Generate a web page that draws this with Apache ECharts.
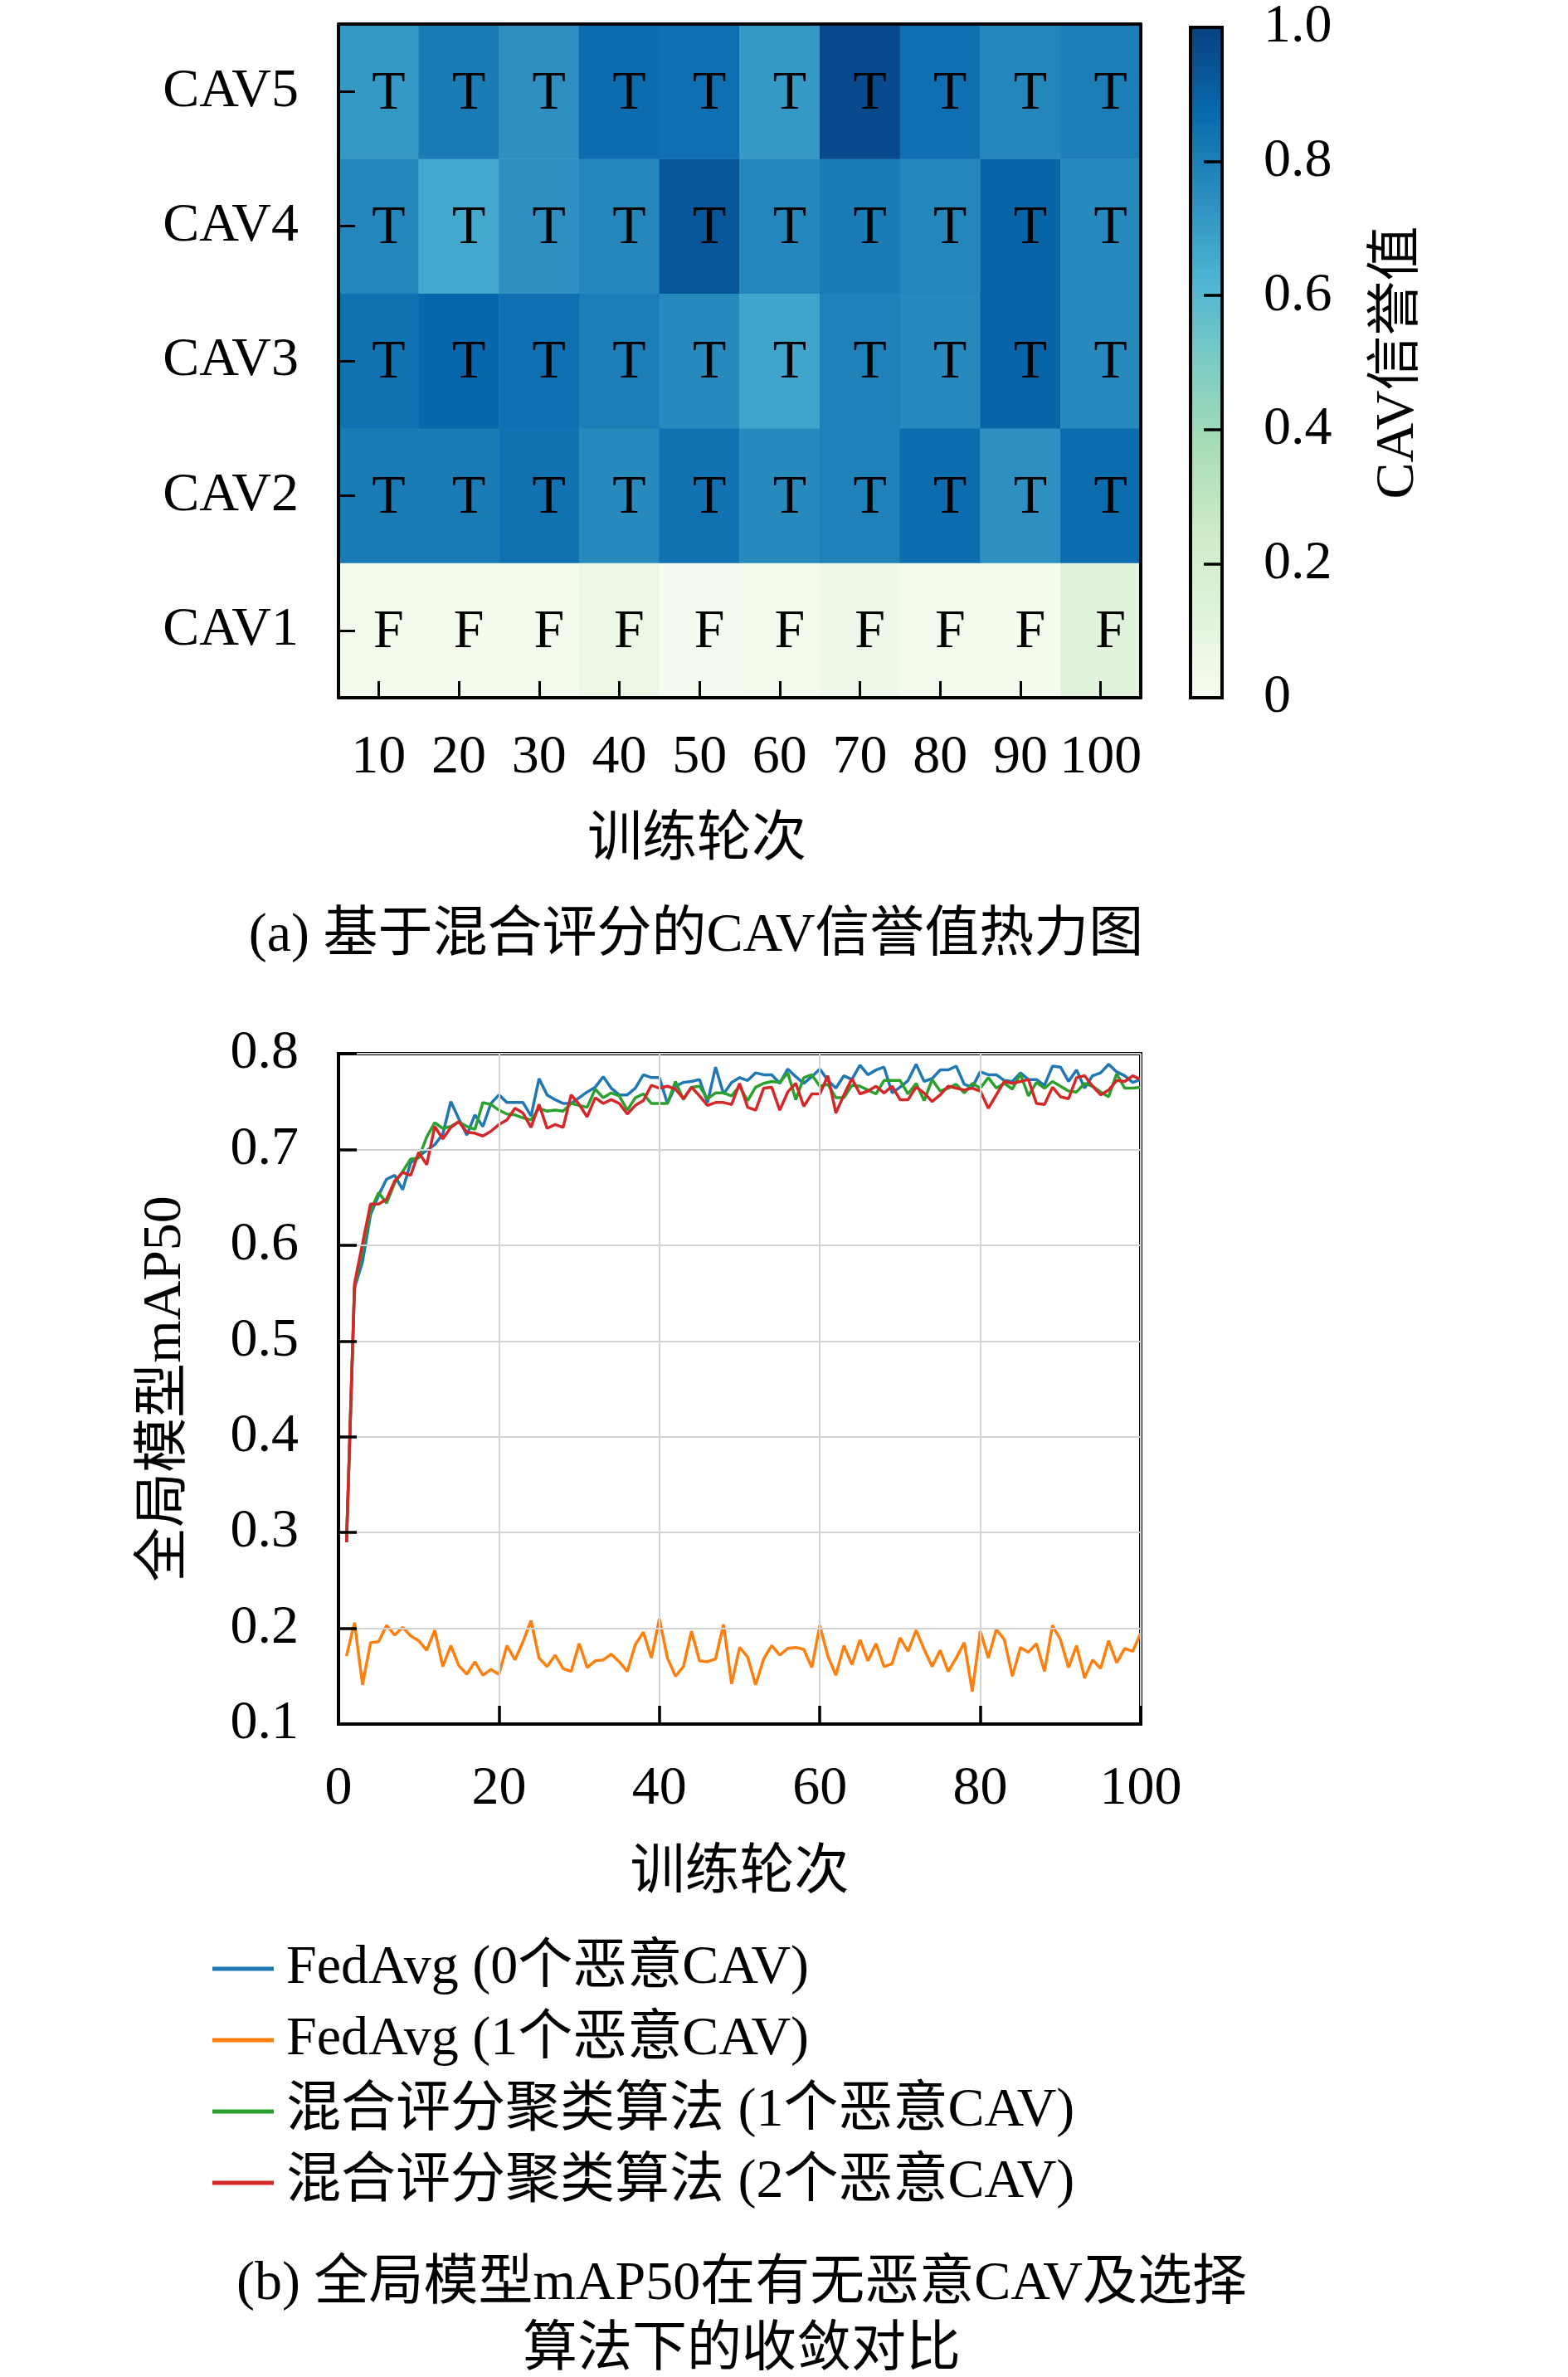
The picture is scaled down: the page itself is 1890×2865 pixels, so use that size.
<!DOCTYPE html>
<html>
<head>
<meta charset="utf-8">
<script src="https://cdn.jsdelivr.net/npm/echarts@6/dist/echarts.min.js"></script>
<style>
html,body{margin:0;padding:0;background:#fff;}
#chart{width:1890px;height:2865px;}
</style>
</head>
<body>
<div id="chart"></div>
<script>
// ---------- Heatmap data ----------
const roundLabels = ['10','20','30','40','50','60','70','80','90','100'];
const cavNames = ['CAV1','CAV2','CAV3','CAV4','CAV5'];
const cav1Scores = [0.02,0.02,0.02,0.06,0.01,0.02,0.05,0.02,0.02,0.12];
const cav2Scores = [0.81,0.81,0.84,0.76,0.84,0.76,0.79,0.86,0.74,0.86];
const cav3Scores = [0.84,0.88,0.85,0.80,0.76,0.67,0.79,0.76,0.89,0.76];
const cav4Scores = [0.77,0.66,0.74,0.77,0.93,0.77,0.81,0.77,0.89,0.76];
const cav5Scores = [0.71,0.81,0.74,0.86,0.85,0.71,0.97,0.85,0.77,0.80];
const cavFlags = ['F','T','T','T','T'];
const colorbarTicks = [0,0.2,0.4,0.6,0.8,1.0];

// ---------- Line chart data (rounds 1..100) ----------
const fedAvg0 = [0.29,0.555,0.583,0.632,0.652,0.669,0.673,0.658,0.686,0.693,
0.699,0.705,0.716,0.750,0.732,0.715,0.736,0.724,0.748,0.757,
0.749,0.749,0.749,0.735,0.774,0.757,0.752,0.748,0.748,0.754,
0.760,0.765,0.776,0.764,0.757,0.757,0.764,0.778,0.775,0.775,
0.748,0.766,0.770,0.771,0.773,0.749,0.786,0.758,0.770,0.775,
0.772,0.780,0.778,0.778,0.769,0.784,0.776,0.769,0.776,0.784,
0.772,0.764,0.777,0.773,0.788,0.778,0.783,0.786,0.759,0.765,
0.772,0.789,0.771,0.774,0.783,0.783,0.787,0.768,0.765,0.781,
0.778,0.778,0.772,0.771,0.780,0.773,0.773,0.767,0.787,0.786,
0.771,0.783,0.764,0.777,0.780,0.789,0.781,0.777,0.770,0.773];
const fedAvg1 = [0.171,0.206,0.141,0.185,0.186,0.203,0.193,0.201,0.192,0.187,
0.177,0.198,0.160,0.182,0.161,0.152,0.165,0.151,0.157,0.152,
0.182,0.167,0.186,0.208,0.169,0.160,0.172,0.158,0.155,0.184,
0.159,0.166,0.167,0.173,0.165,0.155,0.183,0.196,0.169,0.210,
0.169,0.150,0.160,0.197,0.166,0.165,0.168,0.204,0.142,0.180,
0.170,0.141,0.168,0.182,0.172,0.179,0.180,0.178,0.159,0.203,
0.171,0.151,0.182,0.162,0.188,0.166,0.184,0.160,0.163,0.190,
0.176,0.198,0.178,0.160,0.177,0.155,0.169,0.185,0.134,0.197,
0.169,0.199,0.188,0.150,0.180,0.175,0.184,0.155,0.203,0.188,
0.159,0.182,0.148,0.167,0.158,0.187,0.164,0.179,0.176,0.195];
const hybrid1 = [0.29,0.557,0.595,0.636,0.655,0.644,0.665,0.677,0.690,0.691,
0.713,0.728,0.722,0.724,0.729,0.724,0.721,0.749,0.747,0.741,
0.737,0.736,0.733,0.731,0.743,0.740,0.741,0.740,0.748,0.746,
0.744,0.763,0.754,0.759,0.756,0.741,0.754,0.758,0.748,0.748,
0.748,0.771,0.752,0.765,0.766,0.753,0.759,0.759,0.756,0.766,
0.751,0.765,0.769,0.771,0.770,0.780,0.752,0.775,0.778,0.766,
0.768,0.754,0.754,0.767,0.766,0.762,0.758,0.772,0.772,0.772,
0.758,0.769,0.751,0.773,0.761,0.764,0.768,0.759,0.769,0.764,
0.775,0.764,0.769,0.763,0.779,0.756,0.770,0.764,0.771,0.766,
0.761,0.760,0.769,0.766,0.760,0.755,0.779,0.764,0.764,0.765];
const hybrid2 = [0.29,0.560,0.602,0.643,0.643,0.648,0.667,0.676,0.673,0.697,
0.684,0.724,0.711,0.723,0.729,0.718,0.717,0.714,0.719,0.726,
0.731,0.743,0.738,0.723,0.747,0.722,0.726,0.723,0.757,0.747,
0.734,0.754,0.748,0.752,0.748,0.737,0.746,0.751,0.767,0.764,
0.766,0.763,0.753,0.765,0.756,0.746,0.749,0.749,0.747,0.769,
0.744,0.741,0.764,0.765,0.741,0.760,0.769,0.745,0.758,0.758,
0.777,0.738,0.757,0.774,0.758,0.761,0.766,0.759,0.766,0.752,
0.752,0.765,0.759,0.750,0.757,0.766,0.764,0.762,0.764,0.761,
0.743,0.757,0.771,0.769,0.771,0.773,0.748,0.747,0.765,0.755,
0.753,0.775,0.777,0.766,0.757,0.762,0.772,0.771,0.777,0.773];
const seriesNames = ['FedAvg (0个恶意CAV)','FedAvg (1个恶意CAV)','混合评分聚类算法 (1个恶意CAV)','混合评分聚类算法 (2个恶意CAV)'];
const seriesColors = ['#1f77b4','#ff7f0e','#2ca02c','#d62728'];

// ---------- Build ----------
const FF = "'Liberation Serif','Noto Sans CJK SC',serif";
const FS = 66;
const gnbu = ['#f7fcf0','#e0f3db','#ccebc5','#a8ddb5','#7bccc4','#4eb3d3','#2b8cbe','#0868ac','#084081'];
const rows = [cav1Scores,cav2Scores,cav3Scores,cav4Scores,cav5Scores];
const heatData = [];
rows.forEach((r, yi) => r.forEach((v, xi) => heatData.push([xi, yi, v])));

const mk = arr => arr.map((v, i) => [i + 1, v]);
const lineData = [fedAvg0, fedAvg1, hybrid1, hybrid2];

const HM = {left:408, top:29, width:967, height:812};
const LN = {left:408, top:1270, width:967, height:808};
const CB = {left:1435, top:29, width:38, height:812};

const txt = {color:'#000', fontFamily:FF, fontSize:FS};
const frameLine = {show:true, onZero:false, lineStyle:{color:'#000', width:4}};
const cbGradient = {type:'linear', x:0, y:1, x2:0, y2:0,
  colorStops: gnbu.map((c, i) => ({offset: i / (gnbu.length - 1), color: c}))};

const option = {
  backgroundColor:'#fff',
  animation:false,
  textStyle:{fontFamily:FF},
  grid:[
    Object.assign({containLabel:false}, HM),
    Object.assign({containLabel:false, show:true, borderColor:'#000', borderWidth:4}, LN),
    Object.assign({containLabel:false, show:true, borderColor:'#000', borderWidth:4, backgroundColor:cbGradient}, CB)
  ],
  xAxis:[
    {type:'category', gridIndex:0, data:roundLabels, position:'bottom', z:10,
     axisLine:frameLine,
     axisTick:{show:true, inside:true, alignWithLabel:true, interval:0, length:20, lineStyle:{color:'#000', width:3}},
     axisLabel:Object.assign({margin:40, interval:0}, txt), splitLine:{show:false}},
    {type:'category', gridIndex:0, data:roundLabels, position:'top', z:10,
     axisLine:frameLine, axisTick:{show:false}, axisLabel:{show:false}},
    {type:'value', gridIndex:1, min:0, max:100, interval:20, position:'bottom', z:10,
     axisLine:frameLine,
     axisTick:{show:true, inside:true, length:22, lineStyle:{color:'#000', width:3.5}},
     axisLabel:Object.assign({margin:46}, txt),
     splitLine:{show:true, lineStyle:{color:'#d3d3d3', width:2}},
     name:'训练轮次', nameLocation:'middle', nameGap:148, nameTextStyle:txt},
    {type:'value', gridIndex:2, min:0, max:1, show:false, axisLine:{onZero:false}}
  ],
  yAxis:[
    {type:'category', gridIndex:0, data:cavNames, position:'left', z:10,
     axisLine:frameLine,
     axisTick:{show:true, inside:true, alignWithLabel:true, length:20, lineStyle:{color:'#000', width:3}},
     axisLabel:Object.assign({margin:48}, txt)},
    {type:'category', gridIndex:0, data:cavNames, position:'right', z:10,
     axisLine:frameLine, axisTick:{show:false}, axisLabel:{show:false}},
    {type:'value', gridIndex:1, min:0.1, max:0.8, interval:0.1, position:'left', z:10,
     axisLine:frameLine,
     axisTick:{show:true, inside:true, length:22, lineStyle:{color:'#000', width:3.5}},
     axisLabel:Object.assign({margin:48, formatter:v => v.toFixed(1)}, txt),
     splitLine:{show:true, lineStyle:{color:'#d3d3d3', width:2}},
     name:'全局模型mAP50', nameLocation:'middle', nameGap:175, nameRotate:90, nameTextStyle:txt},
    {type:'value', gridIndex:2, min:0, max:1, interval:0.2, position:'right', z:10,
     axisLine:{show:false, onZero:false},
     axisTick:{show:true, inside:true, length:22, lineStyle:{color:'#000', width:3.5}},
     axisLabel:Object.assign({margin:50, formatter:v => (v === 0 ? '0' : v.toFixed(1))}, txt),
     splitLine:{show:false},
     name:'CAV信誉值', nameLocation:'middle', nameGap:180, nameRotate:90, nameTextStyle:txt}
  ],
  visualMap:{
    type:'continuous', min:0, max:1, seriesIndex:0, dimension:2,
    show:false, inRange:{color:gnbu}
  },
  legend:{
    orient:'vertical', left:251, top:2335, itemGap:20,
    itemWidth:74, itemHeight:5, icon:'rect',
    textStyle:{color:'#000', fontFamily:FF, fontSize:FS, lineHeight:66, padding:[0,0,0,10]},
    data:seriesNames
  },
  series:[
    {type:'heatmap', xAxisIndex:0, yAxisIndex:0, data:heatData,
     itemStyle:{borderWidth:0},
     label:{show:true, color:'#000', fontFamily:FF, fontSize:FS, offset:[12, 3],
       formatter:p => cavFlags[p.value[1]]},
     emphasis:{disabled:true}}
  ].concat(lineData.map((arr, k) => ({
     type:'line', name:seriesNames[k], xAxisIndex:2, yAxisIndex:2,
     data:mk(arr), showSymbol:false, symbol:'none',
     color:seriesColors[k],
     lineStyle:{color:seriesColors[k], width:3.5},
     z:3
  }))),
  graphic:[
    {type:'text', z:100, silent:true,
     style:{x:840, y:1014, text:'训练轮次', font:FS+'px '+FF, fill:'#000', textAlign:'center', textVerticalAlign:'middle'}},
    {type:'text', z:100, silent:true,
     style:{x:839, y:1129, text:'(a) 基于混合评分的CAV信誉值热力图', font:FS+'px '+FF, fill:'#000', textAlign:'center', textVerticalAlign:'middle'}},
    {type:'text', z:100, silent:true,
     style:{x:894, y:2754, text:'(b) 全局模型mAP50在有无恶意CAV及选择', font:FS+'px '+FF, fill:'#000', textAlign:'center', textVerticalAlign:'middle'}},
    {type:'text', z:100, silent:true,
     style:{x:894, y:2834, text:'算法下的收敛对比', font:FS+'px '+FF, fill:'#000', textAlign:'center', textVerticalAlign:'middle'}}
  ]
};

const chart = echarts.init(document.getElementById('chart'), null, {renderer:'canvas', width:1890, height:2865});
chart.setOption(option);
</script>
</body>
</html>
